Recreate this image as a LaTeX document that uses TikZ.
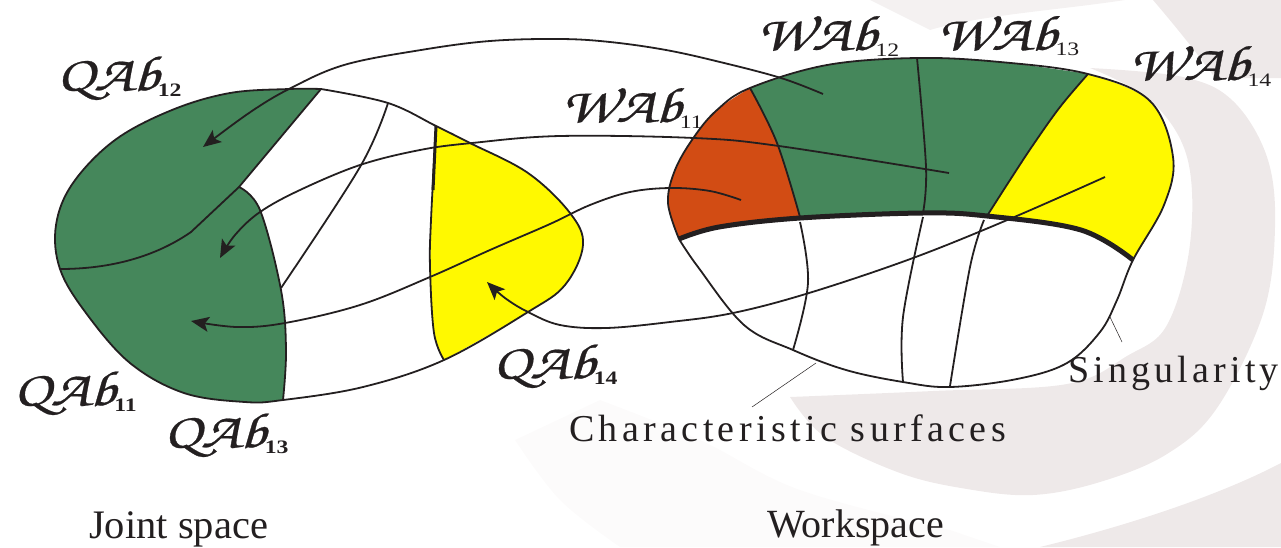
\documentclass[tikz,border=0pt]{standalone}
\usepackage{fontspec}
\setmainfont{Liberation Serif}
\usetikzlibrary{arrows.meta}
\newcommand{\chartlabel}[2]{{\fontsize{50}{50}\usefont{OT1}{pzc}{mb}{it}\special{pdf:code 2 Tr 0.25 w}#1Ab\special{pdf:code 0 Tr}}\hspace{-1pt}\raisebox{-6pt}{\fontsize{19}{19}\selectfont\normalfont #2}}
\definecolor{swoosh}{HTML}{EEE9E9}
\definecolor{swooshfaint}{HTML}{FCFBFB}
\definecolor{swooshtop}{HTML}{F4F1F1}
\definecolor{ink}{HTML}{231F20}
\definecolor{cellgreen}{HTML}{45875B}
\definecolor{cellyellow}{HTML}{FFF900}
\definecolor{cellorange}{HTML}{D24C14}
\tikzset{
  curve/.style={draw=ink, line width=1.8pt},
  seam/.style={draw=ink, line width=1.8pt},
  maparrow/.style={draw=ink, line width=1.8pt, -{Stealth[length=18pt,width=15pt,inset=4pt]}},
  leader/.style={draw=ink, line width=0.5pt},
  chart/.style={inner sep=0pt, text=ink, xscale=1.25},
  caption/.style={inner sep=0pt, text=ink, anchor=base west},
  soft/.style={smooth, tension=0.6}
}
\begin{document}
\begin{tikzpicture}[x=1pt,y=-1pt]
\useasboundingbox (0,0) rectangle (1281,547);
% backdrop
\fill[swooshtop] (870,0) -- (1125,0) .. controls (1060,10) and (980,15) .. (930,30) -- cycle;
\fill[swooshfaint] plot[soft] coordinates {(515,440) (560,500) (620,547)} -- (1000,547) -- plot[soft] coordinates {(950,530) (800,490) (700,440) (600,400)} -- cycle;
\fill[swoosh] (1153,0) -- (1281,0) -- (1281,78) -- (1215,78) .. controls (1195,50) and (1170,20) .. cycle;
\fill[swoosh] (1281,463) .. controls (1220,495) and (1130,525) .. (1040,547) -- (1281,547) -- cycle;
\fill[swoosh] plot[soft] coordinates {(1090,68) (1183,77) (1233,101) (1267,157) (1275,227) (1263,314) (1217,408) (1167,454) (1100,482) (1033,495) (967,489) (900,473) (825,437) (790,397)}
  -- plot[soft] coordinates {(790,397) (933,391) (1067,384) (1127,356) (1167,325) (1190,244) (1187,157) (1150,100) (1090,68)} -- cycle;

% joint space
\fill[cellgreen] plot[soft] coordinates {(321,89) (289,89) (230,93) (172,110) (115,140) (73,183) (56,225) (60,269) (86,313) (130,363) (184,393) (245,402) (283,400)}
  -- plot[soft] coordinates {(283,400) (286,350) (281,290) (260,210) (239,187)} -- (321,89) -- cycle;
\fill[cellyellow] plot[soft] coordinates {(436,126) (470,143) (528,173) (570,213) (583,245) (565,285) (528,312) (444,360)}
  -- plot[soft] coordinates {(444,360) (434,333) (430,267) (436,126)} -- cycle;
\draw[curve] plot[soft] coordinates {(321,89) (289,89) (230,93) (172,110) (115,140) (73,183) (56,225) (60,269) (86,313) (130,363) (184,393) (245,402) (283,400) (363,387) (444,360) (528,312) (565,285) (583,245) (570,213) (528,173) (470,143) (436,126) (388,103) (321,89)};
\draw[seam] (321,89) -- (239,187) -- (191,232) .. controls (155,257) and (110,269) .. (60,269);
\draw[seam] plot[soft] coordinates {(239,187) (260,210) (281,290) (286,350) (283,400)};
\draw[seam] plot[soft] coordinates {(388,103) (360,167) (281,288)};
\draw[seam] plot[soft] coordinates {(436,126) (431,220) (430,267) (434,333) (444,360)};
\draw[ink, line width=3pt] (436,126) -- (433,190);

% workspace
\fill[white] plot[soft] coordinates {(679,239) (668,203) (675,170) (694,137) (717,110) (750,88) (827,65) (917,58) (1000,62) (1088,74) (1150,101) (1173,157) (1164,205) (1133,260) (1117,300) (1100,332) (1067,363) (1017,379) (950,387) (903,382) (846,370) (793,350) (744,325) (698,267) (679,239)};
\fill[cellorange] plot[soft] coordinates {(679,239) (668,203) (675,170) (694,137) (717,110) (750,88)}
  -- plot[soft] coordinates {(750,88) (777,143) (800,217)} -- plot[soft] coordinates {(800,217) (719,227) (679,239)} -- cycle;
\fill[cellgreen] plot[soft] coordinates {(750,88) (827,65) (917,58) (1000,62) (1088,74)}
  -- plot[soft] coordinates {(1088,74) (1060,107) (1033,145) (1010,180) (987,216)} -- plot[soft] coordinates {(987,216) (922,213) (800,217)}
  -- plot[soft] coordinates {(800,217) (777,143) (750,88)} -- cycle;
\fill[cellyellow] plot[soft] coordinates {(1088,74) (1150,101) (1173,157) (1164,205) (1133,260)}
  -- plot[soft] coordinates {(1133,260) (1081,230) (987,216)} -- plot[soft] coordinates {(987,216) (1010,180) (1033,145) (1060,107) (1088,74)} -- cycle;
\draw[curve] plot[soft] coordinates {(679,239) (668,203) (675,170) (694,137) (717,110) (750,88) (827,65) (917,58) (1000,62) (1088,74) (1150,101) (1173,157) (1164,205) (1133,260) (1117,300) (1100,332) (1067,363) (1017,379) (950,387) (903,382) (846,370) (793,350) (744,325) (698,267) (679,239)};
\draw[seam] plot[soft] coordinates {(750,88) (777,143) (800,217)};
\draw[seam] plot[soft] coordinates {(917,58) (926,167) (923,213)};
\draw[seam] plot[soft] coordinates {(1088,74) (1060,107) (1033,145) (1010,180) (987,216)};
\draw[seam] plot[soft] coordinates {(800,222) (808,283) (793,350)};
\draw[seam] plot[soft] coordinates {(923,217) (903,317) (903,382)};
\draw[seam] plot[soft] coordinates {(984,220) (970,267) (950,386)};
\draw[ink, line width=5pt] plot[soft] coordinates {(679,239) (719,227) (800,218) (922,213) (987,216) (1081,230) (1133,260)};

% maps between the two spaces
\draw[maparrow] plot[soft] coordinates {(823,94) (781,78) (720,62) (666,50) (610,42) (560,39) (490,41) (421,50) (344,65) (289,89) (249,113) (203,147)};
\draw[maparrow] plot[soft] coordinates {(949,173) (779,146) (694,138) (560,136) (472,143) (420,150) (360,165) (300,190) (260,212) (235,235) (220,258)};
\draw[maparrow] plot[soft] coordinates {(741,200) (710,191) (671,188) (630,192) (590,205) (550,224) (490,250) (430,277) (360,305) (285,323) (237,327) (191,321)};
\draw[maparrow] plot[soft] coordinates {(1105,177) (1012,218) (913,258) (809,293) (733,313) (670,322) (606,328) (560,325) (528,312) (505,298) (487,282)};

% labels
\node[chart] (qab12) at (119,77) {\chartlabel{Q}{\textbf{12}}};
\node[chart] (qab11) at (75,392) {\chartlabel{Q}{\textbf{11}}};
\node[chart] (qab13) at (226,434) {\chartlabel{Q}{\textbf{13}}};
\node[chart] (qab14) at (555,365) {\chartlabel{Q}{\textbf{14}}};
\node[chart] (wab11) at (632,107) {\chartlabel{W}{11}};
\node[chart] (wab12) at (828,35) {\chartlabel{W}{12}};
\node[chart] (wab13) at (1008,35) {\chartlabel{W}{13}};
\node[chart] (wab14) at (1200,65) {\chartlabel{W}{14}};
\node[caption] (sing) at (1068,382) {\fontsize{38}{38}\addfontfeatures{LetterSpace=11}Singularity};
\node[caption] (chars) at (569,441) {\fontsize{38}{38}\addfontfeatures{LetterSpace=11.5}Characteristic surfaces};
\node[caption] (joint) at (89,538) {\fontsize{40.5}{40}\selectfont Joint space};
\node[caption] (work) at (767,537) {\fontsize{40}{40}\selectfont Workspace};
\coordinate (charsend) at (752,407);
\coordinate (charstart) at (816,363);
\coordinate (singend) at (1122,342);
\coordinate (singstart) at (1110,317);
\draw[leader] (charstart) -- (charsend);
\draw[leader] (singstart) -- (singend);
\end{tikzpicture}
\end{document}
